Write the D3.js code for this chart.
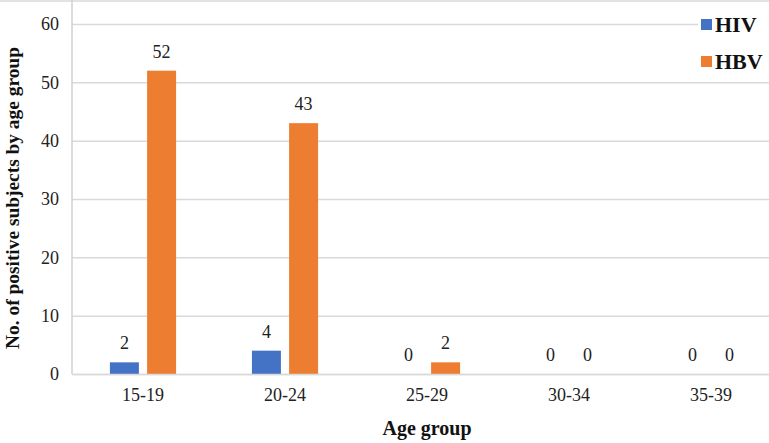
<!DOCTYPE html>
<html><head><meta charset="utf-8">
<script src="https://cdn.jsdelivr.net/npm/d3@7"></script>
<style>body{margin:0;background:#fff}svg{display:block}svg text{font-family:'Liberation Serif','Times New Roman',serif}</style>
</head><body>
<script>
const categories = ["15-19","20-24","25-29","30-34","35-39"];
const hiv = [2,4,0,0,0];
const hbv = [52,43,2,0,0];
const seriesNames = ["HIV","HBV"];
const yTicks = [0,10,20,30,40,50,60];
const colors = ["#4472C4","#ED7D31"];

const W=769,H=443;
const svg=d3.select("body").append("svg").attr("width",W).attr("height",H);
const x=d3.scaleBand().domain(categories).range([72,782]).paddingInner(0).paddingOuter(0);
const y=d3.scaleLinear().domain([0,60]).range([374,24]);
const xs=d3.scaleBand().domain(seriesNames).range([0,x.bandwidth()]).paddingInner(0.22).paddingOuter(1.02);

svg.append("line").attr("x1",0).attr("x2",W).attr("y1",1).attr("y2",1).attr("stroke","#d9d9d9").attr("stroke-width",1.5);

const ya=d3.axisLeft(y).tickValues(yTicks).tickSize(-(782-72)).tickPadding(10);
const gy=svg.append("g").attr("transform","translate(72,0)").call(ya).attr("font-family",null);
gy.select(".domain").remove();
gy.selectAll(".tick line").attr("stroke","#d9d9d9").attr("stroke-width",1.5);
gy.selectAll(".tick text").attr("font-size",18).attr("fill","#222").attr("dx",-3);
svg.append("line").attr("x1",72).attr("x2",72).attr("y1",0).attr("y2",374).attr("stroke","#d0d0d0").attr("stroke-width",1.5);

const data=categories.map((c,i)=>({c,vals:[hiv[i],hbv[i]]}));
const g=svg.append("g");
data.forEach(d=>{
  d.vals.forEach((v,j)=>{
    const bx=x(d.c)+xs(seriesNames[j]);
    if(v>0) g.append("rect").attr("x",bx).attr("y",y(v)).attr("width",xs.bandwidth()).attr("height",y(0)-y(v)).attr("fill",colors[j]);
    g.append("text").attr("x",bx+xs.bandwidth()/2).attr("y",y(v)-13).attr("text-anchor","middle")
      .attr("font-size",18).attr("fill","#222").text(v);
  });
});

const xa=d3.axisBottom(x).tickSize(0).tickPadding(14);
const gx=svg.append("g").attr("transform","translate(0,374)").call(xa).attr("font-family",null);
gx.select(".domain").attr("stroke","#d9d9d9").attr("stroke-width",1.5);
gx.selectAll(".tick text").attr("font-size",18).attr("fill","#222");

svg.append("text").attr("x",427).attr("y",435).attr("text-anchor","middle")
  .attr("font-weight","bold").attr("font-size",20).attr("fill","#111").text("Age group");
svg.append("text").attr("transform","translate(19,198) rotate(-90)").attr("text-anchor","middle")
  .attr("font-weight","bold").attr("font-size",19.4).attr("fill","#111").text("No. of positive subjects by age group");

const lg=svg.append("g");
lg.append("rect").attr("x",698).attr("y",10).attr("width",71).attr("height",65).attr("fill","#fff");
seriesNames.forEach((s,i)=>{
  const ly=[25,62][i];
  lg.append("rect").attr("x",701).attr("y",ly-6).attr("width",11).attr("height",11).attr("fill",colors[i]);
  lg.append("text").attr("x",715).attr("y",ly+7).attr("font-weight","bold")
    .attr("font-size",22).attr("fill","#111").text(s);
});
</script>
</body></html>
